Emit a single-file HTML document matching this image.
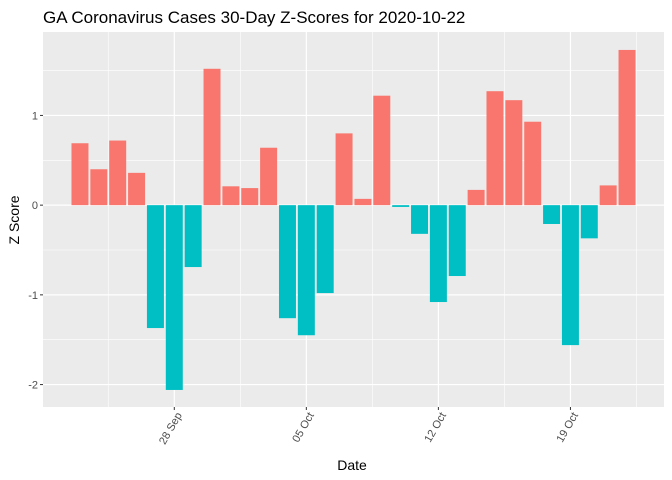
<!DOCTYPE html>
<html><head><meta charset="utf-8"><style>
body{margin:0;background:#fff;}
svg{display:block;font-family:"Liberation Sans",Arial,sans-serif;}
</style></head><body>
<svg id="chart" width="672" height="480">
<text x="43" y="23" font-size="17" fill="#000">GA Coronavirus Cases 30-Day Z-Scores for 2020-10-22</text>
<rect x="43" y="32" width="621" height="375" fill="#ebebeb"/>
<g id="grid"></g>
<g id="bars"></g>
<g id="axes"></g>
<text x="352" y="470" font-size="14" text-anchor="middle">Date</text>
<text transform="translate(19,220) rotate(-90)" font-size="14" text-anchor="middle">Z Score</text>
</svg>
<script>
const dayOffsets = [-5,-4,-3,-2,-1,0,1,2,3,4,5,6,7,8,9,10,11,12,13,14,15,16,17,18,19,20,21,22,23,24];
const zScores = [0.69,0.40,0.72,0.36,-1.37,-2.06,-0.69,1.52,0.21,0.19,0.64,-1.26,-1.45,-0.98,0.80,0.07,1.22,-0.02,-0.32,-1.08,-0.79,0.17,1.27,1.17,0.93,-0.21,-1.56,-0.37,0.22,1.73];
const xTickDays = [0,7,14,21];
const xTickLabels = ["28 Sep","05 Oct","12 Oct","19 Oct"];
const xMinorDays = [-3.5,3.5,10.5,17.5,24.5];
const yTicks = [-2,-1,0,1];
const yMinor = [-1.5,-0.5,0.5,1.5];

const NS="http://www.w3.org/2000/svg";
const X0=43,X1=664,Y0=32,Y1=407;
const dMin=-6.96,dMax=25.96,vMin=-2.25,vMax=1.93;
const x=d=>X0+(d-dMin)/(dMax-dMin)*(X1-X0);
const y=v=>Y1-(v-vMin)/(vMax-vMin)*(Y1-Y0);
const bw=0.9*(x(1)-x(0));
function mk(tag,attrs,parent){const e=document.createElementNS(NS,tag);for(const k in attrs)e.setAttribute(k,attrs[k]);document.getElementById(parent).appendChild(e);return e;}
yMinor.forEach(v=>{const l=mk('line',{x1:X0,x2:X1,y1:y(v),y2:y(v),stroke:'#fff','stroke-width':0.6},'grid');

});
xMinorDays.forEach(d=>{const l=mk('line',{x1:x(d),x2:x(d),y1:Y0,y2:Y1,stroke:'#fff','stroke-width':0.6},'grid');

});
yTicks.forEach(v=>{const l=mk('line',{x1:X0,x2:X1,y1:y(v),y2:y(v),stroke:'#fff','stroke-width':1.2},'grid');


const t=mk('line',{x1:X0-3,x2:X0,y1:y(v),y2:y(v),stroke:'#333','stroke-width':1},'axes');


const tx=mk('text',{x:X0-5,y:y(v)+4,'font-size':11,fill:'#4d4d4d','text-anchor':'end'},'axes');
tx.textContent=v;

});
xTickDays.forEach((d,i)=>{const l=mk('line',{x1:x(d),x2:x(d),y1:Y0,y2:Y1,stroke:'#fff','stroke-width':1.2},'grid');


const t=mk('line',{x1:x(d),x2:x(d),y1:Y1,y2:Y1+3,stroke:'#333','stroke-width':1},'axes');


const tx=mk('text',{transform:`translate(${x(d)+8},${Y1+8}) rotate(-60)`,'font-size':11,fill:'#4d4d4d','text-anchor':'end'},'axes');
tx.textContent=xTickLabels[i];

});
dayOffsets.forEach((d,i)=>{const v=zScores[i];const top=Math.min(y(v),y(0));const h=Math.abs(y(v)-y(0));
const r=mk('rect',{x:x(d)-bw/2,y:top,width:bw,height:Math.max(h,0.5),fill:v>=0?'#f8766d':'#00bfc4'},'bars');

});
</script>
</body></html>
